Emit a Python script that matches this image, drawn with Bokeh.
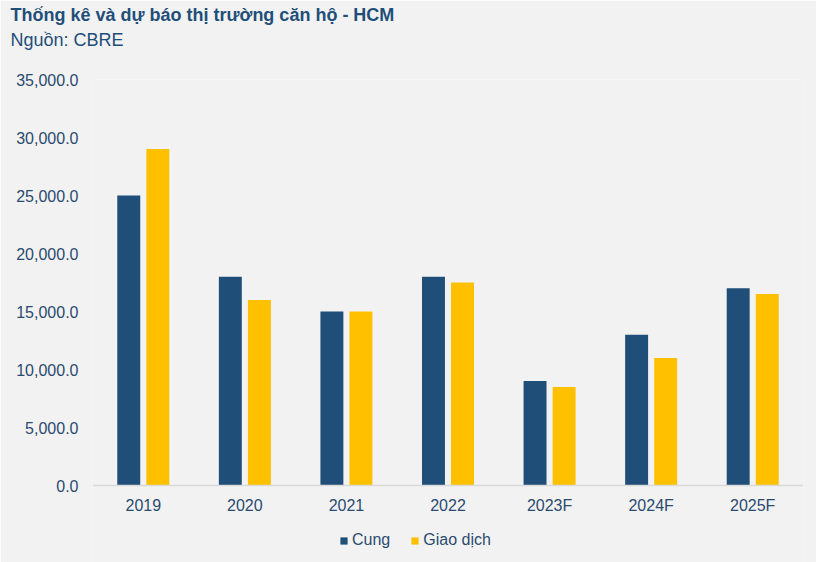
from bokeh.plotting import figure
from bokeh.models import FactorRange, Title, Legend, LegendItem, NumeralTickFormatter, FixedTicker
from bokeh.transform import dodge
from bokeh.embed import file_html
from bokeh.resources import INLINE
from bokeh.models import ColumnDataSource

categories = ["2019", "2020", "2021", "2022", "2023F", "2024F", "2025F"]
cung = [25000, 18000, 15000, 18000, 9000, 13000, 17000]
giao_dich = [29000, 16000, 15000, 17500, 8500, 11000, 16500]
y_ticks = [0, 5000, 10000, 15000, 20000, 25000, 30000, 35000]

FONT = "Liberation Sans"
BG = "#F2F2F2"
NAVY = "#1F4E79"
GOLD = "#FFC000"
TXT = "#2B4A6F"

# frame reaches the bottom of the canvas so the legend can sit inside it, below the zero line
Y_MAX = 35000
Y_MIN = -Y_MAX * 77 / 406

src = ColumnDataSource(dict(cat=categories, cung=cung, gd=giao_dich))

p = figure(x_range=FactorRange(factors=categories, range_padding=0),
           y_range=(Y_MIN, Y_MAX), width=816, height=562,
           frame_width=711, frame_height=483,
           output_backend="svg", toolbar_location=None, title=None,
           background_fill_color=BG, border_fill_color=BG,
           min_border_left=92, min_border_right=13, min_border_top=0, min_border_bottom=0)
p.outline_line_color = None

r1 = p.vbar(x=dodge("cat", -0.143, range=p.x_range), top="cung", bottom=0, width=0.226,
            source=src, fill_color=NAVY, line_color=None)
r2 = p.vbar(x=dodge("cat", 0.143, range=p.x_range), top="gd", bottom=0, width=0.226,
            source=src, fill_color=GOLD, line_color=None)

p.xgrid.grid_line_color = None
p.ygrid.grid_line_color = None

p.yaxis.ticker = FixedTicker(ticks=y_ticks)
p.yaxis.formatter = NumeralTickFormatter(format="0,0.0")
p.yaxis.axis_line_color = None
p.yaxis.major_tick_line_color = None
p.yaxis.minor_tick_line_color = None
p.yaxis.major_tick_out = 0
p.yaxis.minor_tick_out = 0
p.yaxis.major_label_standoff = 14
p.yaxis.major_label_text_font = FONT
p.yaxis.major_label_text_font_size = "16px"
p.yaxis.major_label_text_color = TXT

p.xaxis.fixed_location = 0
p.xaxis.axis_line_color = "#D9D9D9"
p.xaxis.axis_line_width = 1.5
p.xaxis.major_tick_line_color = None
p.xaxis.minor_tick_line_color = None
p.xaxis.major_tick_out = 0
p.xaxis.minor_tick_out = 0
p.xaxis.major_label_standoff = 11
p.xaxis.major_label_text_font = FONT
p.xaxis.major_label_text_font_size = "16px"
p.xaxis.major_label_text_color = TXT

legend = Legend(items=[LegendItem(label="Cung", renderers=[r1]),
                       LegendItem(label="Giao dịch", renderers=[r2])],
                orientation="horizontal", location=(247, 13),
                background_fill_alpha=0, border_line_color=None,
                glyph_width=9, glyph_height=9, label_standoff=4, spacing=20,
                padding=0, margin=0, label_height=17,
                label_text_font=FONT, label_text_font_size="16px", label_text_color=TXT)
p.add_layout(legend)

spacer = Title(text=" ", text_font=FONT, text_font_size="16px", standoff=11)
sub = Title(text="Nguồn: CBRE", text_font=FONT, text_font_size="18px",
            text_font_style="normal", text_color=NAVY, standoff=0, offset=-82)
main = Title(text="Thống kê và dự báo thị trường căn hộ - HCM", text_font=FONT,
             text_font_size="18px", text_font_style="bold", text_color=NAVY,
             standoff=5, offset=-82)
p.add_layout(spacer, "above")
p.add_layout(sub, "above")
p.add_layout(main, "above")

open("out.html", "w").write(file_html(p, INLINE))
